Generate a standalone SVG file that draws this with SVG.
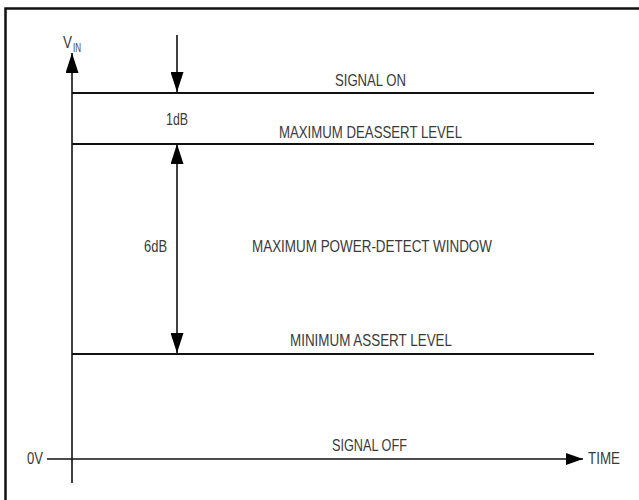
<svg xmlns="http://www.w3.org/2000/svg" width="639" height="500" viewBox="0 0 639 500">
<style>
.t{font-family:"Liberation Sans",Arial,sans-serif;font-size:16.5px;fill:#3a3a3a;}
.sub{font-size:12px;}
.ln{stroke:#111;stroke-width:2;fill:none;}
.ax{stroke:#111;stroke-width:1.6;fill:none;}
</style>
<defs>
<marker id="ah" markerUnits="userSpaceOnUse" markerWidth="20" markerHeight="13" refX="20" refY="6.5" orient="auto-start-reverse">
<path d="M0,0 L20,6.5 L0,13 z" fill="#000"/>
</marker>
<marker id="ahs" markerUnits="userSpaceOnUse" markerWidth="17" markerHeight="12" refX="17" refY="6" orient="auto">
<path d="M0,0 L17,6 L0,12 z" fill="#000"/>
</marker>
</defs>
<rect width="639" height="500" fill="#fff"/>
<g id="frame"><path d="M5.5,500 V8.5 H640" stroke="#111" stroke-width="2.5" fill="none"/></g>
<g id="connectors">
<line class="ax" x1="72" y1="483" x2="72" y2="53" marker-end="url(#ah)"/>
<line class="ax" x1="47" y1="459" x2="583" y2="459" marker-end="url(#ahs)"/>
<line class="ln" x1="72" y1="93" x2="594" y2="93"/>
<line class="ln" x1="72" y1="144" x2="594" y2="144"/>
<line class="ln" x1="72" y1="354" x2="594" y2="354"/>
<line class="ax" x1="177" y1="35" x2="177" y2="92" marker-end="url(#ah)"/>
<line class="ax" x1="177" y1="144" x2="177" y2="353" marker-start="url(#ah)" marker-end="url(#ah)"/>
</g>
<g id="vin"><text class="t" x="63" y="48" textLength="9" lengthAdjust="spacingAndGlyphs">V</text><text class="t sub" x="73" y="52" textLength="8" lengthAdjust="spacingAndGlyphs">IN</text></g>
<g id="signal-on"><text class="t" x="335" y="86" textLength="71" lengthAdjust="spacingAndGlyphs">SIGNAL ON</text></g>
<g id="db1"><text class="t" x="166" y="125" textLength="22" lengthAdjust="spacingAndGlyphs">1dB</text></g>
<g id="max-deassert"><text class="t" x="279" y="138" textLength="183" lengthAdjust="spacingAndGlyphs">MAXIMUM DEASSERT LEVEL</text></g>
<g id="db6"><text class="t" x="144" y="252" textLength="23" lengthAdjust="spacingAndGlyphs">6dB</text></g>
<g id="window"><text class="t" x="252" y="252" textLength="240" lengthAdjust="spacingAndGlyphs">MAXIMUM POWER-DETECT WINDOW</text></g>
<g id="min-assert"><text class="t" x="290" y="346" textLength="162" lengthAdjust="spacingAndGlyphs">MINIMUM ASSERT LEVEL</text></g>
<g id="signal-off"><text class="t" x="332" y="451" textLength="75" lengthAdjust="spacingAndGlyphs">SIGNAL OFF</text></g>
<g id="zero"><text class="t" x="27" y="464" textLength="16" lengthAdjust="spacingAndGlyphs">0V</text></g>
<g id="time"><text class="t" x="588" y="464" textLength="32" lengthAdjust="spacingAndGlyphs">TIME</text></g>
</svg>
